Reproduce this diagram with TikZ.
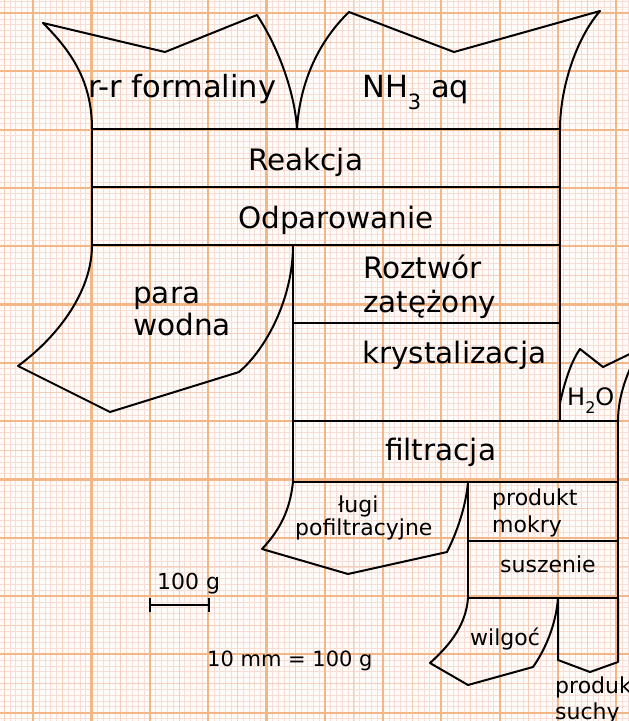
\documentclass[tikz,border=0pt]{standalone}
\usepackage{fontspec}
\setmainfont{DejaVu Sans}
\definecolor{gridminor}{RGB}{246,222,214}
\definecolor{gridmed}{RGB}{243,206,184}
\definecolor{gridmajor}{RGB}{243,182,134}
\definecolor{paper}{RGB}{255,251,249}
\tikzset{
  minorline/.style={gridminor, line width=0.6pt},
  medline/.style={gridmed, line width=0.9pt},
  majorline/.style={gridmajor, line width=2.2pt},
  flow/.style={black, line width=2pt, line join=round},
  big/.style={anchor=base west, inner sep=0pt, font=\fontsize{29.5}{32}\selectfont},
  small/.style={anchor=base west, inner sep=0pt, font=\fontsize{22}{24}\selectfont},
}
\begin{document}
\begin{tikzpicture}[x=1pt,y=-1pt]
\useasboundingbox (0,0) rectangle (629,721);
\fill[paper] (0,0) rectangle (629,721);
% grid
\foreach \i in {-6,...,104} \draw[minorline] ({33.2+\i*5.83},0) -- ++(0,721);
\foreach \i in {-3,...,122} \draw[minorline] (0,{13+\i*5.83}) -- ++(629,0);
\foreach \i in {-5,0,...,100} \draw[medline] ({33.2+\i*5.83},0) -- ++(0,721);
\foreach \i in {-5,0,...,120} \draw[medline] (0,{13+\i*5.83}) -- ++(629,0);
\foreach \i in {0,10,...,100} \draw[majorline] ({33.2+\i*5.83},0) -- ++(0,721);
\foreach \i in {0,10,...,120} \draw[majorline] (0,{13+\i*5.83}) -- ++(629,0);

% inputs
\draw[flow] (92,129) .. controls (92,80) and (70,50) .. (43,23) -- (165,52) -- (257,15)
  .. controls (280,50) and (295,95) .. (297,129);
\draw[flow] (297,129) .. controls (300,80) and (320,40) .. (349,12) -- (454,52) -- (600,11)
  .. controls (575,40) and (560,90) .. (560,129);
% process boxes
\draw[flow] (92,129) rectangle (560,187);
\draw[flow] (92,187) rectangle (560,245);
\draw[flow] (293,245) rectangle (560,323);
\draw[flow] (293,323) rectangle (560,421);
\draw[flow] (293,421) rectangle (618,482);
\draw[flow] (468,482) rectangle (618,541);
\draw[flow] (468,541) rectangle (618,598);
% para wodna
\draw[flow] (92,245) .. controls (92,290) and (60,335) .. (18,366) -- (110,412) -- (239,372)
  .. controls (265,350) and (293,300) .. (293,245);
% H2O
\draw[flow] (560,403) .. controls (565,380) and (572,360) .. (580,349) -- (603,367) -- (640,349);
\draw[flow] (618,421) .. controls (618,395) and (628,370) .. (640,349);
% ługi
\draw[flow] (293,482) .. controls (290,510) and (280,530) .. (262,549) -- (348,574) -- (447,552)
  .. controls (458,530) and (466,505) .. (468,482);
% wilgoć
\draw[flow] (468,598) .. controls (466,625) and (450,645) .. (430,663) -- (468,685) -- (533,667)
  .. controls (545,650) and (556,625) .. (558,598);
% produkt suchy
\draw[flow] (558,598) -- (558,660) -- (590,672) -- (618,662) -- (618,598);
% scale bar
\coordinate (sa) at (150,605);
\coordinate (sb) at (209,605);
\draw[flow, line width=1.5pt] (sa) -- (sb);
\draw[flow, line width=1.5pt] ([yshift=-7pt]sa) -- ([yshift=7pt]sa);
\draw[flow, line width=1.5pt] ([yshift=-7pt]sb) -- ([yshift=7pt]sb);

% labels
\node[big, font=\fontsize{30.5}{32}\selectfont] (tform) at (88,97) {r-r formaliny};
\node[big, font=\fontsize{30.5}{32}\selectfont] (tnh3) at (362,97) {NH\raisebox{-12pt}{\fontsize{21}{21}\selectfont 3} aq};
\node[big] (treak) at (248,170) {Reakcja};
\node[big] (todp) at (238,228) {Odparowanie};
\node[big] (tpara) at (133,303) {para};
\node[big] (twod) at (133,335) {wodna};
\node[big] (troz) at (363,278) {Roztwór};
\node[big] (tzat) at (363,312) {zatężony};
\node[big] (tkry) at (362,363) {krystalizacja};
\node[small, font=\fontsize{24}{24}\selectfont] (th2o) at (567,405) {H\raisebox{-8pt}{\fontsize{16}{16}\selectfont 2}O};
\node[big] (tfil) at (385,460) {filtracja};
\node[small] (tlugi) at (338,512) {ługi};
\node[small] (tpof) at (295,535) {pofiltracyjne};
\node[small] (tpm1) at (492,505) {produkt};
\node[small] (tpm2) at (492,532) {mokry};
\node[small] (tsus) at (500,572) {suszenie};
\node[small] (twil) at (470,645) {wilgoć};
\node[small] (tps1) at (555,693) {produkt};
\node[small] (tps2) at (555,719) {suchy};
\node[small] (tscale) at (157,589) {100 g};
\node[small, font=\fontsize{21}{24}\selectfont] (tmm) at (207,666) {10 mm = 100 g};
\end{tikzpicture}
\end{document}
